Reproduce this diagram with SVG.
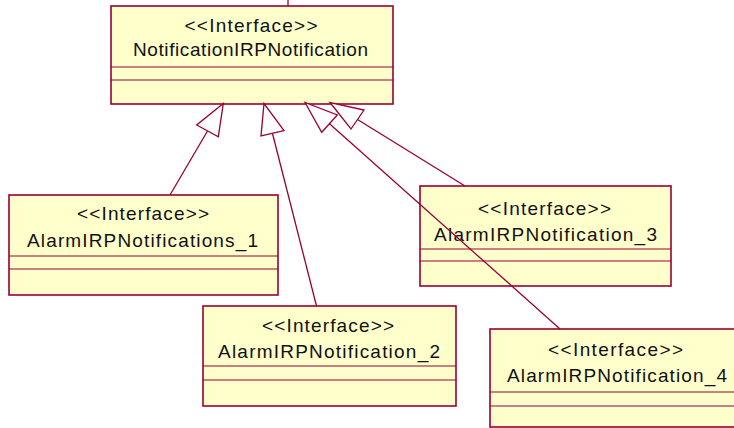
<svg xmlns="http://www.w3.org/2000/svg" width="734" height="428" viewBox="0 0 734 428">
<style>
.box{fill:#FFFFCC;stroke:#990033;stroke-width:1.6}
.div{stroke:#990033;stroke-width:1;fill:none}
.t{font-family:"Liberation Sans",Arial,sans-serif;font-size:19px;fill:#111;text-anchor:middle}
.ln{stroke:#990033;stroke-width:1.3;fill:none}
.ah{fill:#FFFFFF;stroke:#990033;stroke-width:1.3;stroke-linejoin:miter}
</style>
<rect width="734" height="428" fill="#FFFFFF"/>
<g id="node-NotificationIRPNotification">
<rect class="box" x="111" y="6" width="282" height="98"/>
<line class="div" x1="111" y1="67" x2="393" y2="67"/>
<line class="div" x1="111" y1="80" x2="393" y2="80"/>
<text class="t" x="251" y="31.5" textLength="133" lengthAdjust="spacing">&lt;&lt;Interface&gt;&gt;</text>
<text class="t" x="250.5" y="55.5" textLength="235" lengthAdjust="spacing">NotificationIRPNotification</text>
</g>
<g id="node-AlarmIRPNotifications_1">
<rect class="box" x="9" y="195" width="269" height="100"/>
<line class="div" x1="9" y1="256" x2="278" y2="256"/>
<line class="div" x1="9" y1="269" x2="278" y2="269"/>
<text class="t" x="143" y="220" textLength="132" lengthAdjust="spacing">&lt;&lt;Interface&gt;&gt;</text>
<text class="t" x="142.5" y="246.5" textLength="231" lengthAdjust="spacing">AlarmIRPNotifications_1</text>
</g>
<g id="node-AlarmIRPNotification_2">
<rect class="box" x="203" y="306" width="253" height="100"/>
<line class="div" x1="203" y1="366" x2="456" y2="366"/>
<line class="div" x1="203" y1="380" x2="456" y2="380"/>
<text class="t" x="328" y="331.5" textLength="132" lengthAdjust="spacing">&lt;&lt;Interface&gt;&gt;</text>
<text class="t" x="329" y="358" textLength="222" lengthAdjust="spacing">AlarmIRPNotification_2</text>
</g>
<g id="node-AlarmIRPNotification_3">
<rect class="box" x="420" y="186" width="251" height="100"/>
<line class="div" x1="420" y1="249" x2="671" y2="249"/>
<line class="div" x1="420" y1="261" x2="671" y2="261"/>
<text class="t" x="544.5" y="215" textLength="133" lengthAdjust="spacing">&lt;&lt;Interface&gt;&gt;</text>
<text class="t" x="545.5" y="240.5" textLength="223" lengthAdjust="spacing">AlarmIRPNotification_3</text>
</g>
<g id="node-AlarmIRPNotification_4">
<rect class="box" x="490" y="329" width="252" height="98"/>
<line class="div" x1="490" y1="392" x2="734" y2="392"/>
<line class="div" x1="490" y1="406" x2="734" y2="406"/>
<text class="t" x="615.5" y="356" textLength="135" lengthAdjust="spacing">&lt;&lt;Interface&gt;&gt;</text>
<text class="t" x="617" y="382.3" textLength="220" lengthAdjust="spacing">AlarmIRPNotification_4</text>
</g>
<g id="connectors">
<line class="ln" x1="288" y1="0" x2="288" y2="6"/>
<line class="ln" x1="207.5" y1="131" x2="170" y2="195"/>
<polygon class="ah" points="223.3,103.5 196.7,125 218.3,136.7"/>
<line class="ln" x1="272.5" y1="133.5" x2="316.5" y2="306"/>
<polygon class="ah" points="264,103.5 261,136 284,130.7"/>
<line class="ln" x1="329.5" y1="123.7" x2="560" y2="329"/>
<polygon class="ah" points="305,102.5 321.7,132.3 337.3,115"/>
<line class="ln" x1="357.5" y1="119.5" x2="465" y2="186"/>
<polygon class="ah" points="330,102.5 351,129 364,110"/>
</g>
</svg>
